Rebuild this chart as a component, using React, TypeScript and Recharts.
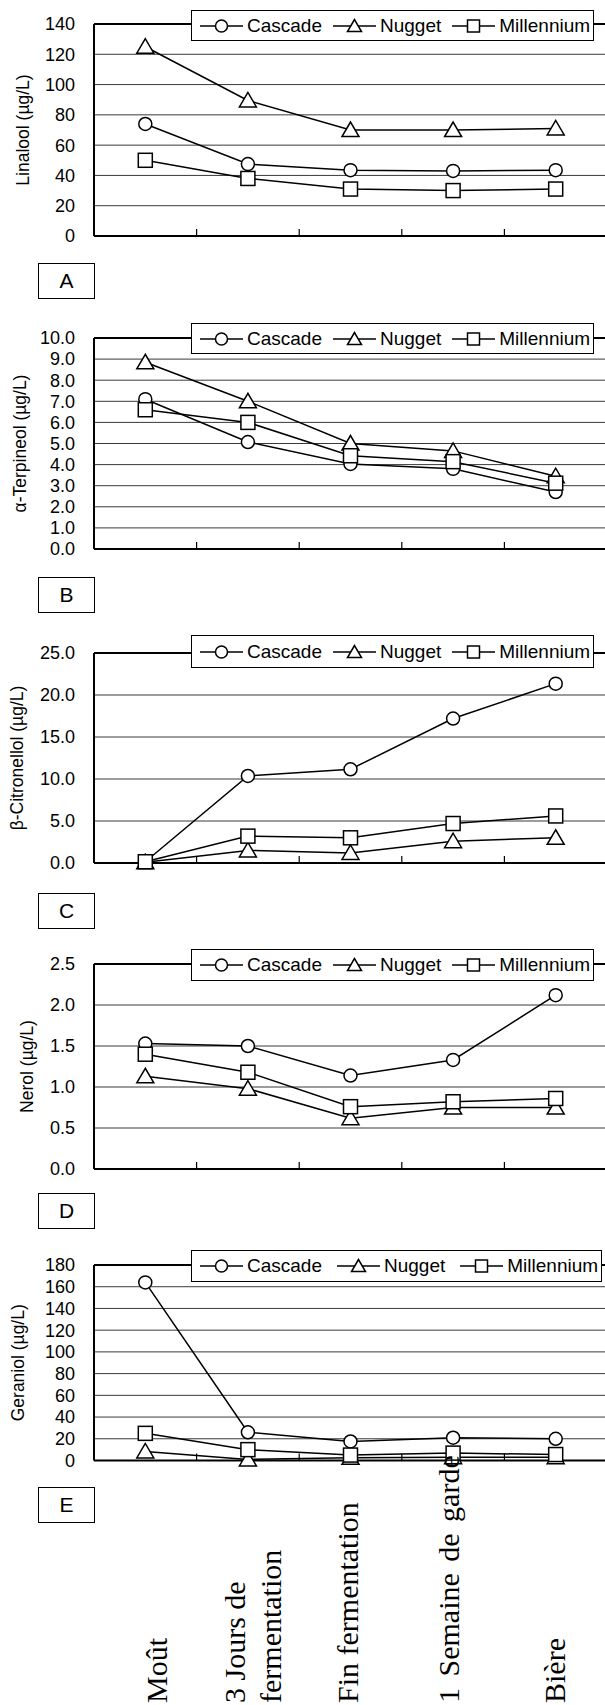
import React from "react";
import { LineChart, Line, XAxis, YAxis, CartesianGrid, ReferenceLine, Legend } from "recharts";

const stages = ["Moût", "3 Jours de\nfermentation", "Fin fermentation", "1 Semaine de garde", "Bière"];

const linaloolCascade = [74, 47.5, 43.5, 43, 43.5];
const linaloolNugget = [125, 89.5, 70, 70, 71];
const linaloolMillennium = [50, 38, 31, 30, 31];
const linaloolTicks = [0, 20, 40, 60, 80, 100, 120, 140];

const terpineolCascade = [7.1, 5.07, 4.03, 3.8, 2.7];
const terpineolNugget = [8.85, 7.0, 5.0, 4.65, 3.45];
const terpineolMillennium = [6.6, 6.0, 4.42, 4.14, 3.12];
const terpineolTicks = [0, 1, 2, 3, 4, 5, 6, 7, 8, 9, 10];

const citronellolCascade = [0.15, 10.36, 11.16, 17.2, 21.35];
const citronellolNugget = [0.1, 1.5, 1.2, 2.6, 3.0];
const citronellolMillennium = [0.15, 3.2, 3.0, 4.7, 5.6];
const citronellolTicks = [0, 5, 10, 15, 20, 25];

const nerolCascade = [1.53, 1.5, 1.14, 1.33, 2.12];
const nerolNugget = [1.13, 0.98, 0.62, 0.75, 0.75];
const nerolMillennium = [1.4, 1.18, 0.76, 0.82, 0.86];
const nerolTicks = [0, 0.5, 1, 1.5, 2, 2.5];

const geraniolCascade = [164, 26, 17.5, 21, 20];
const geraniolNugget = [8.3, 1, 2.5, 3, 3];
const geraniolMillennium = [25, 10, 5, 6.8, 5.5];
const geraniolTicks = [0, 20, 40, 60, 80, 100, 120, 140, 160, 180];

// stage slots on a 0..5 scale: points sit mid-slot, tick marks on the slot edges
const boundaryTicks = [1, 2, 3, 4];

const panels = [
  { letter: "A", label: "Linalool (µg/L)", c: linaloolCascade, n: linaloolNugget, m: linaloolMillennium, ticks: linaloolTicks, dec: 0 },
  { letter: "B", label: "α-Terpineol (µg/L)", c: terpineolCascade, n: terpineolNugget, m: terpineolMillennium, ticks: terpineolTicks, dec: 1 },
  { letter: "C", label: "β-Citronellol (µg/L)", c: citronellolCascade, n: citronellolNugget, m: citronellolMillennium, ticks: citronellolTicks, dec: 1 },
  { letter: "D", label: "Nerol (µg/L)", c: nerolCascade, n: nerolNugget, m: nerolMillennium, ticks: nerolTicks, dec: 1 },
  { letter: "E", label: "Geraniol (µg/L)", c: geraniolCascade, n: geraniolNugget, m: geraniolMillennium, ticks: geraniolTicks, dec: 0 },
];

// page layout of each panel (px)
const layout = [
  { top: 4, plotH: 212, legendTop: 6, legendH: 31, letterTop: 263, labelX: 23, legendW: 403 },
  { top: 318, plotH: 211, legendTop: 5, legendH: 31, letterTop: 577, labelX: 20, legendW: 403 },
  { top: 633, plotH: 210, legendTop: 2, legendH: 33, letterTop: 893, labelX: 17, legendW: 403 },
  { top: 944, plotH: 205, legendTop: 5, legendH: 32, letterTop: 1193, labelX: 27, legendW: 403 },
  { top: 1245, plotH: 195.5, legendTop: 5, legendH: 32, letterTop: 1487, labelX: 18, legendW: 411 },
];

const SANS = "'Liberation Sans', Arial, sans-serif";
const SERIF = "'Liberation Serif', 'Times New Roman', serif";
const MT = 20;
const AXIS_H = 244.5;

function circleDot(p: any) {
  if (p.cx == null || p.cy == null) return <g key={`c${p.index}`} />;
  return <circle key={`c${p.index}`} cx={p.cx} cy={p.cy} r={6.5} fill="#fff" stroke="#000" strokeWidth={1.5} />;
}
function triangleDot(p: any) {
  if (p.cx == null || p.cy == null) return <g key={`t${p.index}`} />;
  const { cx, cy } = p;
  return (
    <polygon
      key={`t${p.index}`}
      points={`${cx},${cy - 8} ${cx - 8.5},${cy + 6.5} ${cx + 8.5},${cy + 6.5}`}
      fill="#fff"
      stroke="#000"
      strokeWidth={1.5}
    />
  );
}
function squareDot(p: any) {
  if (p.cx == null || p.cy == null) return <g key={`s${p.index}`} />;
  return <rect key={`s${p.index}`} x={p.cx - 7} y={p.cy - 7} width={14} height={14} fill="#fff" stroke="#000" strokeWidth={1.5} />;
}

function LegendMark({ kind }: { kind: string }) {
  return (
    <svg width={43} height={20} style={{ display: "block", flex: "none" }}>
      <line x1={0} y1={10} x2={43} y2={10} stroke="#000" strokeWidth={1.5} />
      {kind === "c" && <circle cx={21.5} cy={10} r={6} fill="#fff" stroke="#000" strokeWidth={1.5} />}
      {kind === "t" && <polygon points="21.5,3.5 14.5,15.5 28.5,15.5" fill="#fff" stroke="#000" strokeWidth={1.5} />}
      {kind === "s" && <rect x={15.5} y={4} width={12} height={12} fill="#fff" stroke="#000" strokeWidth={1.5} />}
    </svg>
  );
}

function LegendBox({ w, h, wide }: { w: number; h: number; wide: boolean }) {
  const gap = wide ? 15 : 11;
  return (
    <div
      style={{
        boxSizing: "border-box",
        width: w,
        height: h,
        border: "1.5px solid #000",
        background: "#fff",
        display: "flex",
        alignItems: "center",
        paddingLeft: 8,
        fontFamily: SANS,
        fontSize: 19,
        whiteSpace: "nowrap",
        color: "#000",
      }}
    >
      <LegendMark kind="c" />
      <span style={{ marginLeft: 4, marginRight: gap }}>Cascade</span>
      <LegendMark kind="t" />
      <span style={{ marginLeft: 4, marginRight: gap }}>Nugget</span>
      <LegendMark kind="s" />
      <span style={{ marginLeft: 4 }}>Millennium</span>
    </div>
  );
}

const labelShift = [22, -3, 7, 6, 9];
const labelWordGap = [0, 0, 0, 4, 0];

function makeStageTick(chartH: number) {
  return function StageTick(props: any) {
    const { x, payload, index } = props;
    const lines = String(payload.value).split("\n");
    const y0 = chartH - 2;
    return (
      <g>
        {lines.map((ln, i) => (
          <text
            key={i}
            transform={`translate(${x + labelShift[index] + i * 36}, ${y0}) rotate(-90)`}
            x={0}
            y={0}
            textAnchor="start"
            fontFamily={SERIF}
            fontSize={30}
            wordSpacing={labelWordGap[index]}
            fill="#000"
          >
            {ln}
          </text>
        ))}
      </g>
    );
  };
}

function Panel({ idx }: { idx: number }) {
  const p = panels[idx];
  const L = layout[idx];
  const last = idx === panels.length - 1;
  const chartH = MT + L.plotH + (last ? AXIS_H : 16);
  const data = stages.map((s, i) => ({ stage: s, slot: i + 0.5, Cascade: p.c[i], Nugget: p.n[i], Millennium: p.m[i] }));
  const yMax = p.ticks[p.ticks.length - 1];
  return (
    <div style={{ position: "absolute", left: 0, top: L.top }}>
      <LineChart width={620} height={chartH} data={data} margin={{ top: MT, right: 13, left: 0, bottom: last ? 0 : 16 }}>
        <CartesianGrid vertical={false} stroke="#3a3a3a" strokeWidth={1} />
        <XAxis
          dataKey="stage"
          hide={!last}
          height={last ? AXIS_H : 0}
          padding={{ left: 51.3, right: 51.3 }}
          axisLine={false}
          tickLine={false}
          interval={0}
          tick={last ? makeStageTick(chartH) : false}
        />
        <XAxis
          xAxisId="slot"
          dataKey="slot"
          type="number"
          domain={[0, 5]}
          ticks={boundaryTicks}
          allowDataOverflow
          mirror
          height={10}
          interval={0}
          tickFormatter={() => ""}
          tick={{ fontSize: 1, fill: "none" }}
          tickSize={7}
          tickMargin={0}
          tickLine={{ stroke: "#000", strokeWidth: 1.2 }}
          axisLine={{ stroke: "#000", strokeWidth: 2 }}
        />
        <YAxis
          width={94}
          domain={[0, yMax]}
          ticks={p.ticks}
          interval={0}
          tickFormatter={(v: number) => v.toFixed(p.dec)}
          axisLine={{ stroke: "#000", strokeWidth: 2 }}
          tickLine={false}
          tickSize={0}
          tickMargin={19}
          tick={{ fill: "#000", fontSize: 18, fontFamily: SANS }}
          label={{
            content: ({ viewBox }: any) => {
              const cy = viewBox.y + viewBox.height / 2;
              return (
                <text
                  x={L.labelX}
                  y={cy}
                  transform={`rotate(-90, ${L.labelX}, ${cy})`}
                  textAnchor="middle"
                  dominantBaseline="central"
                  fontFamily={SANS}
                  fontSize={17.5}
                  fill="#000"
                >
                  {p.label}
                </text>
              );
            },
          }}
        />
        <ReferenceLine y={yMax} stroke="#000" strokeWidth={2} />
        <Legend
          verticalAlign="middle"
          align="center"
          layout="horizontal"
          wrapperStyle={{ top: L.legendTop, left: 191, width: L.legendW, height: L.legendH }}
          content={() => <LegendBox w={L.legendW} h={L.legendH} wide={last} />}
        />
        <Line xAxisId="slot" type="linear" dataKey="Cascade" stroke="#000" strokeWidth={1.5} dot={circleDot} isAnimationActive={false} />
        <Line xAxisId="slot" type="linear" dataKey="Nugget" stroke="#000" strokeWidth={1.5} dot={triangleDot} isAnimationActive={false} />
        <Line xAxisId="slot" type="linear" dataKey="Millennium" stroke="#000" strokeWidth={1.5} dot={squareDot} isAnimationActive={false} />
      </LineChart>
    </div>
  );
}

export default function App() {
  return (
    <div
      style={{
        position: "absolute",
        left: 0,
        top: 0,
        width: 605,
        height: 1705,
        overflow: "hidden",
        background: "#fff",
      }}
    >
      {panels.map((p, i) => (
        <Panel key={p.letter} idx={i} />
      ))}
      {panels.map((p, i) => (
        <div
          key={`box-${p.letter}`}
          style={{
            position: "absolute",
            left: 38,
            top: layout[i].letterTop,
            width: 57,
            height: 36,
            boxSizing: "border-box",
            border: "1.5px solid #000",
            display: "flex",
            alignItems: "center",
            justifyContent: "center",
            fontFamily: SANS,
            fontSize: 21,
            color: "#000",
          }}
        >
          {p.letter}
        </div>
      ))}
    </div>
  );
}
